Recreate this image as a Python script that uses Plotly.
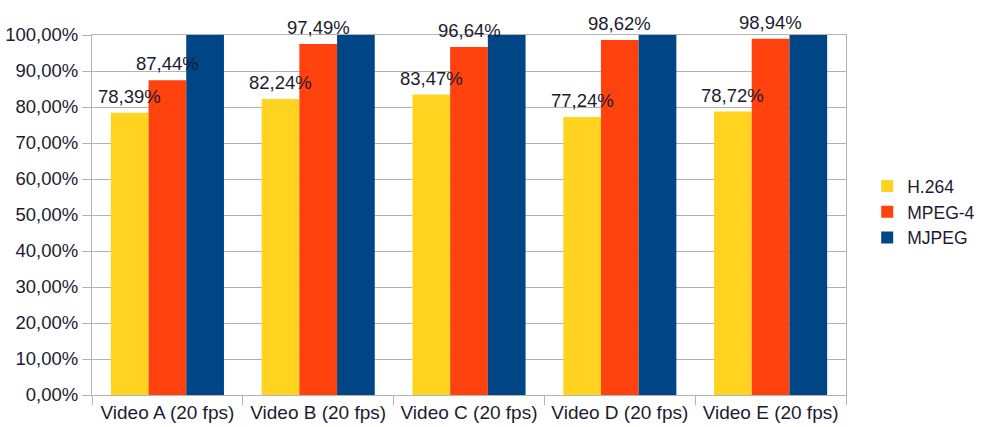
import plotly.graph_objects as go

categories = ["Video A (20 fps)", "Video B (20 fps)", "Video C (20 fps)", "Video D (20 fps)", "Video E (20 fps)"]
h264 = [0.7839, 0.8224, 0.8347, 0.7724, 0.7872]
mpeg4 = [0.8744, 0.9749, 0.9664, 0.9862, 0.9894]
mjpeg = [1.0, 1.0, 1.0, 1.0, 1.0]

font_family = "Liberation Sans, Arial, sans-serif"
txt_color = "#1b1b2f"

W, H = 981, 427
ML, MR, MT, MB = 92, 135, 35, 32
BARGAP = 0.25

fig = go.Figure()
fig.add_trace(go.Bar(name="H.264", x=categories, y=h264, marker_color="#ffd320"))
fig.add_trace(go.Bar(name="MPEG-4", x=categories, y=mpeg4, marker_color="#ff420e"))
fig.add_trace(go.Bar(name="MJPEG", x=categories, y=mjpeg, marker_color="#004586"))
fig.update_traces(marker_line_width=0)

# value labels drawn on top of all bars (as in reference)
plot_w = W - ML - MR
bar_w = plot_w / len(categories) * (1 - BARGAP) / 3


def fmt(v):
    return f"{v*100:.2f}%".replace(".", ",")


for series, shift in ((h264, -bar_w), (mpeg4, 0.0)):
    for c, v in zip(categories, series):
        fig.add_annotation(x=c, y=v, text=fmt(v), showarrow=False,
                           xshift=shift, yanchor="bottom", yshift=4,
                           font=dict(size=18.5, color=txt_color, family=font_family))

fig.update_layout(
    width=W, height=H,
    margin=dict(l=ML, r=MR, t=MT, b=MB, autoexpand=False),
    paper_bgcolor="white", plot_bgcolor="white",
    separators=",.",
    barmode="group", bargap=BARGAP, bargroupgap=0,
    font=dict(family=font_family, size=18.5, color=txt_color),
    showlegend=True,
    legend=dict(x=0.884, y=0.503, xref="container", yref="container",
                xanchor="left", yanchor="middle",
                font=dict(size=17.5, color=txt_color), itemwidth=30,
                tracegroupgap=0, bgcolor="rgba(0,0,0,0)"),
)
fig.update_xaxes(showline=True, linecolor="#b3b3b3", linewidth=1, mirror=True,
                 ticks="outside", tickson="boundaries", ticklen=9, tickcolor="#b3b3b3",
                 showgrid=False, tickfont=dict(size=19))
fig.update_yaxes(range=[0, 1], dtick=0.1, tickformat=".2%", showline=True,
                 linecolor="#b3b3b3", linewidth=1, mirror=True,
                 ticks="outside", ticklen=9, tickcolor="#b3b3b3",
                 showgrid=True, gridcolor="#b3b3b3", gridwidth=1,
                 zeroline=False, tickfont=dict(size=18.5))

fig.write_html("out.html")
